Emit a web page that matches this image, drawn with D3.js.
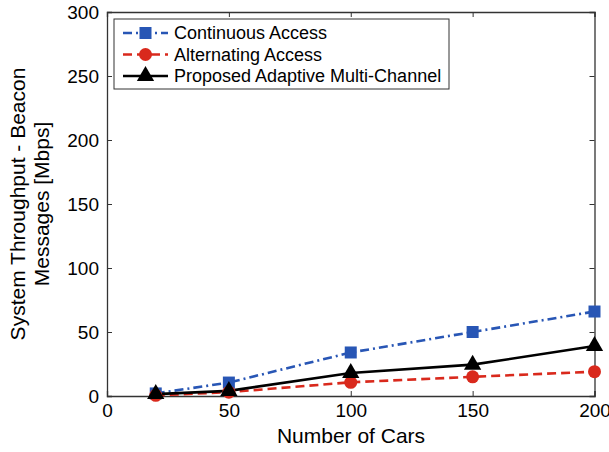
<!DOCTYPE html>
<html>
<head>
<meta charset="utf-8">
<script src="https://cdn.jsdelivr.net/npm/d3@7"></script>
<style>
body { margin: 0; background: #fff; }
text { font-family: "Liberation Sans", Arial, sans-serif; }
</style>
</head>
<body>
<svg width="609" height="452"></svg>
<script>
var cars = [20, 50, 100, 150, 200];
var continuousAccess = [2, 10.5, 34, 50, 66];
var alternatingAccess = [0.5, 3, 10.7, 15, 19];
var proposedAdaptive = [1.5, 4, 18, 24.5, 39];
var xTicks = [0, 50, 100, 150, 200];
var yTicks = [0, 50, 100, 150, 200, 250, 300];

var series = [
    { name: "Continuous Access", values: continuousAccess, color: "#2856b5", dash: "9,4,2,4", marker: "square" },
    { name: "Alternating Access", values: alternatingAccess, color: "#d9291c", dash: "9,5", marker: "circle" },
    { name: "Proposed Adaptive Multi-Channel", values: proposedAdaptive, color: "#000000", dash: null, marker: "triangle" }
];

var plotLeft = 107, plotRight = 594.5, plotTop = 12, plotBottom = 396;
var svg = d3.select("svg");

var x = d3.scaleLinear().domain([0, 200]).range([plotLeft, plotRight]);
var y = d3.scaleLinear().domain([0, 300]).range([plotBottom, plotTop]);

// axes, ticks pointing inward
svg.append("g")
    .attr("transform", "translate(0," + plotBottom + ")")
    .call(d3.axisBottom(x).tickValues(xTicks).tickSize(-5).tickPadding(8));
svg.append("g")
    .attr("transform", "translate(0," + plotTop + ")")
    .call(d3.axisTop(x).tickValues(xTicks).tickSize(-5).tickFormat(""));
svg.append("g")
    .attr("transform", "translate(" + plotLeft + ",0)")
    .call(d3.axisLeft(y).tickValues(yTicks).tickSize(-5).tickPadding(8));
svg.append("g")
    .attr("transform", "translate(" + plotRight + ",0)")
    .call(d3.axisRight(y).tickValues(yTicks).tickSize(-5).tickFormat(""));

svg.selectAll(".domain").attr("stroke", "#333").attr("stroke-width", 1.3);
svg.selectAll(".tick line").attr("stroke", "#333");
svg.selectAll(".tick text").attr("font-size", 19).attr("fill", "#000")
    .attr("font-family", "Liberation Sans, Arial, sans-serif");

var line = d3.line()
    .x(function(d, i) { return x(cars[i]); })
    .y(function(d) { return y(d); });

function drawMarker(g, type, color) {
    if (type === "square") {
        g.append("rect").attr("x", -6).attr("y", -6).attr("width", 12).attr("height", 12).attr("fill", color);
    } else if (type === "circle") {
        g.append("circle").attr("r", 6.5).attr("fill", color);
    } else {
        g.append("path").attr("d", d3.symbol().type(d3.symbolTriangle).size(130)()).attr("fill", color);
    }
}

series.forEach(function(s) {
    svg.append("path")
        .datum(s.values)
        .attr("d", line)
        .attr("fill", "none")
        .attr("stroke", s.color)
        .attr("stroke-width", 2.6)
        .attr("stroke-dasharray", s.dash);
});
series.forEach(function(s) {
    s.values.forEach(function(v, i) {
        var g = svg.append("g").attr("transform", "translate(" + x(cars[i]) + "," + y(v) + ")");
        drawMarker(g, s.marker, s.color);
    });
});

// legend
var legend = svg.append("g");
legend.append("rect")
    .attr("x", 114).attr("y", 19).attr("width", 335).attr("height", 70)
    .attr("fill", "#fff").attr("stroke", "#333").attr("stroke-width", 1);
series.forEach(function(s, i) {
    var ly = 33 + i * 21.5;
    legend.append("line")
        .attr("x1", 123).attr("x2", 168).attr("y1", ly).attr("y2", ly)
        .attr("stroke", s.color).attr("stroke-width", 2.6)
        .attr("stroke-dasharray", s.dash);
    var g = legend.append("g").attr("transform", "translate(145.5," + ly + ")");
    drawMarker(g, s.marker, s.color);
    legend.append("text")
        .attr("x", 174).attr("y", ly).attr("dy", "0.35em")
        .attr("font-size", 18)
        .text(s.name);
});

// axis labels
svg.append("text")
    .attr("x", 351).attr("y", 443)
    .attr("text-anchor", "middle").attr("font-size", 21)
    .text("Number of Cars");
var yl = svg.append("text")
    .attr("transform", "translate(25," + (plotTop + plotBottom) / 2 + ") rotate(-90)")
    .attr("text-anchor", "middle").attr("font-size", 21);
yl.append("tspan").attr("x", 0).attr("dy", 0).text("System Throughput - Beacon");
yl.append("tspan").attr("x", 0).attr("dy", 24).text("Messages [Mbps]");
</script>
</body>
</html>
